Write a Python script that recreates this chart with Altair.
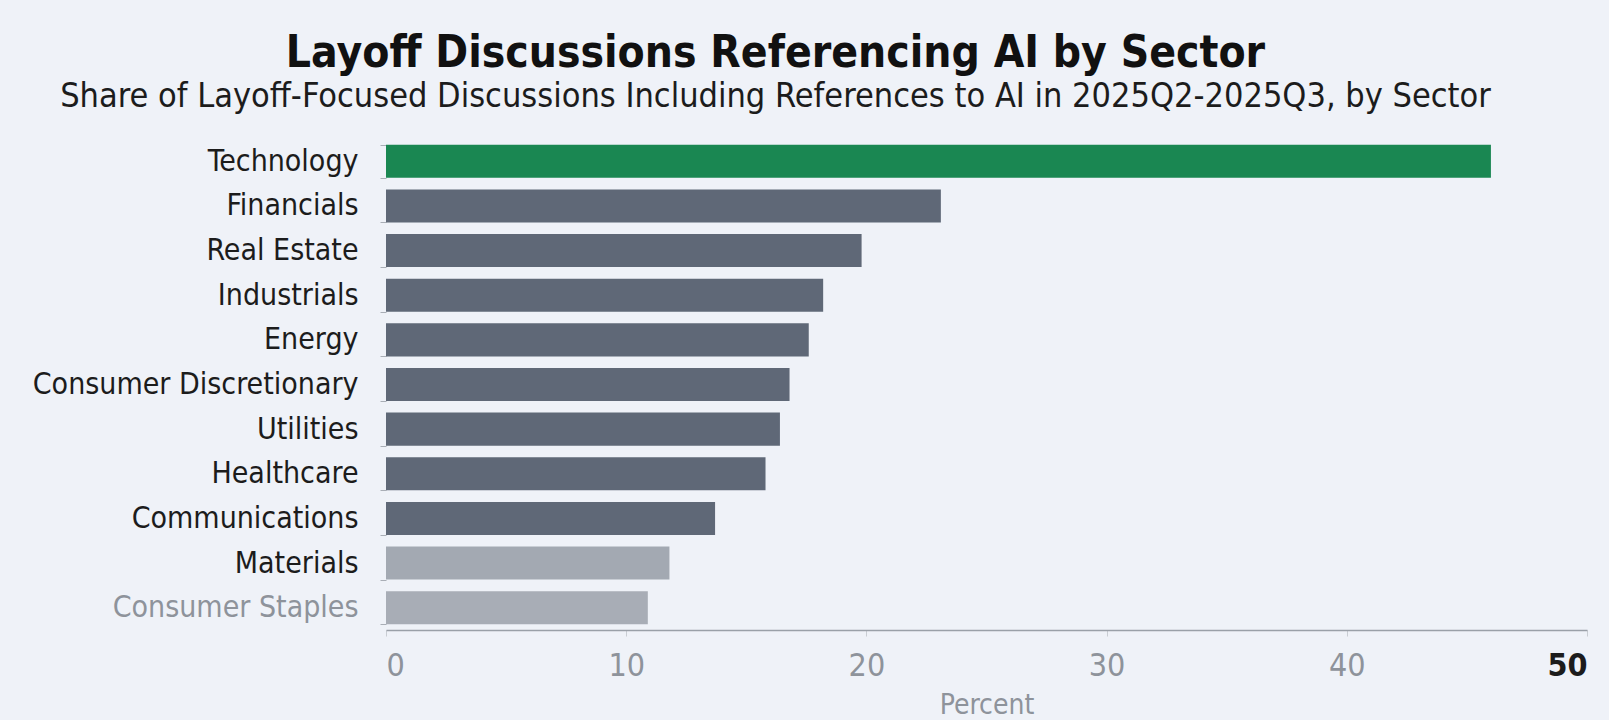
import altair as alt
import pandas as pd

sectors = ["Technology", "Financials", "Real Estate", "Industrials", "Energy",
           "Consumer Discretionary", "Utilities", "Healthcare", "Communications",
           "Materials", "Consumer Staples"]
values = [46.0, 23.1, 19.8, 18.2, 17.6, 16.8, 16.4, 15.8, 13.7, 11.8, 10.9]
colors = ["#1a8752", "#5f6877", "#5f6877", "#5f6877", "#5f6877", "#5f6877",
          "#5f6877", "#5f6877", "#5f6877", "#a3a9b2", "#a8adb6"]
x_ticks = [0, 10, 20, 30, 40, 50]

df = pd.DataFrame({"Sector": sectors, "Percent": values, "color": colors})

FONT = "DejaVu Sans Condensed, Liberation Sans Narrow, sans-serif"

chart = alt.Chart(df).mark_bar().encode(
    y=alt.Y("Sector:N", sort=sectors,
            scale=alt.Scale(paddingInner=0.26, paddingOuter=0.13),
            axis=alt.Axis(title=None, labelFont=FONT, labelFontSize=30,
                          labelColor=alt.expr("datum.value == 'Consumer Staples' ? '#8e939b' : '#1c1c1c'"),
                          labelPadding=22, domain=False, ticks=True, tickBand="extent",
                          tickColor="#a9aeb6", tickSize=6, labelLimit=600)),
    x=alt.X("Percent:Q", scale=alt.Scale(domain=[0, 50], nice=False),
            axis=alt.Axis(values=x_ticks, title="Percent", titleFont=FONT,
                          titleFontSize=28, titleFontWeight="normal", titleColor="#8e939b",
                          titlePadding=10, labelFont=FONT, labelFontSize=32,
                          labelColor=alt.expr("datum.value == 50 ? '#1c1c1c' : '#8e939b'"),
                          labelFontWeight=alt.expr("datum.value == 50 ? 'bold' : 'normal'"),
                          labelPadding=14, domainColor="#9aa0a8", domainWidth=1.5,
                          tickColor="#c9cdd3", tickSize=6, grid=False)),
    color=alt.Color("color:N", scale=None),
).properties(
    width=1201, height=491,
    padding={"left": 386, "top": 139, "right": 22, "bottom": 90},
    autosize=alt.AutoSizeParams(type="none"),
    background="#eff2f8",
    title=alt.TitleParams(
        text="Layoff Discussions Referencing AI by Sector",
        subtitle="Share of Layoff-Focused Discussions Including References to AI in 2025Q2-2025Q3, by Sector",
        font=FONT, fontSize=44, fontWeight="bold", color="#111111",
        subtitleFont=FONT, subtitleFontSize=34, subtitleColor="#1c1c1c",
        subtitlePadding=4, anchor="middle", dx=-211, offset=10,
    ),
).configure_view(stroke=None)

chart.save("out.html", embed_options={"renderer": "svg", "actions": False})
